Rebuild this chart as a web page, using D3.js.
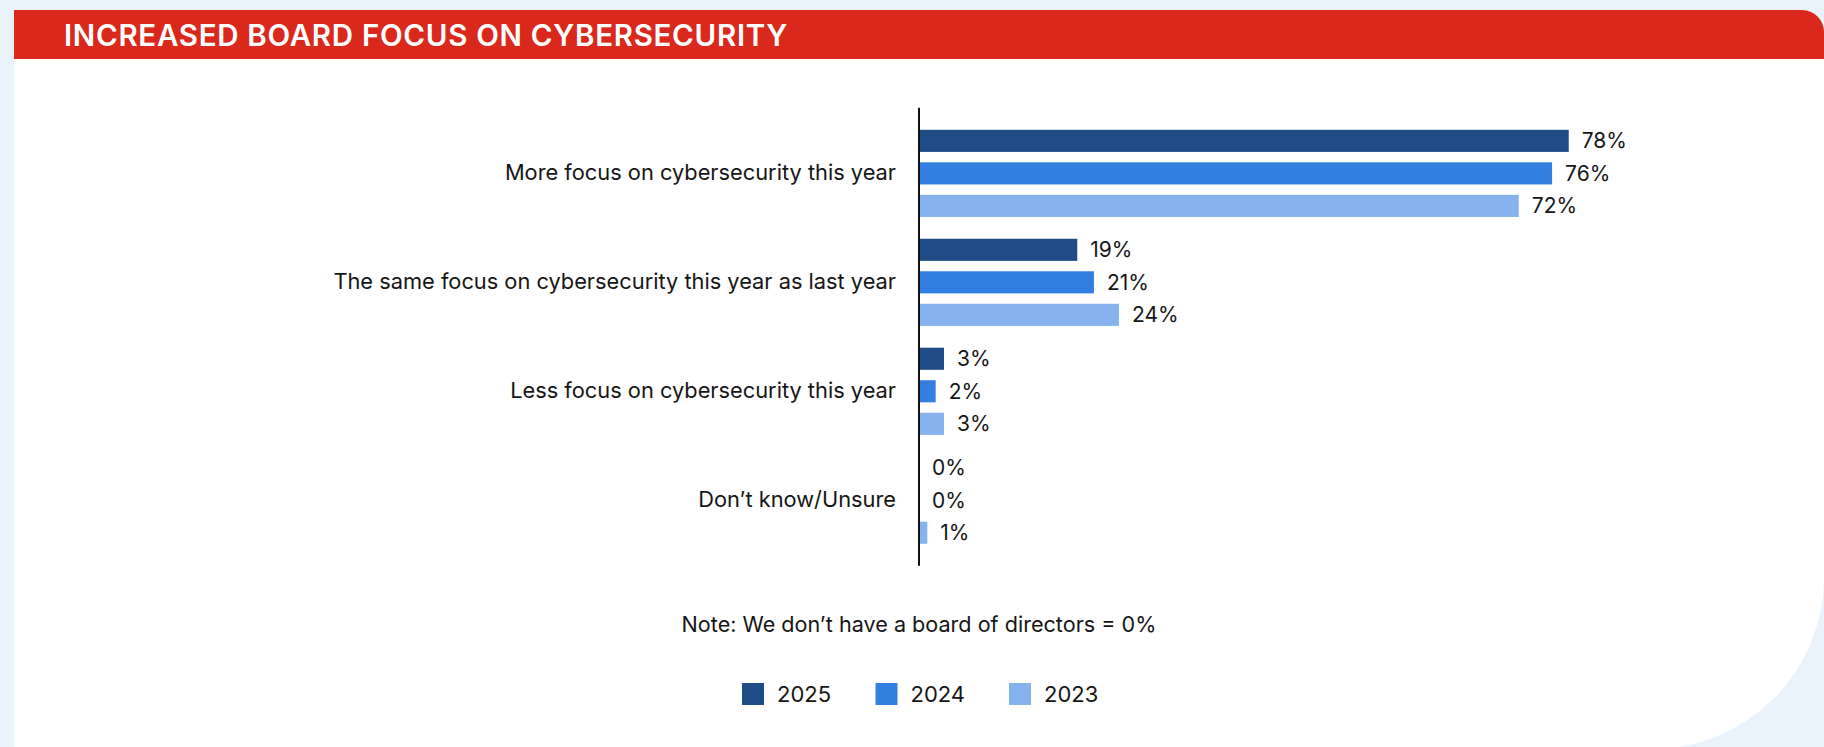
<!DOCTYPE html>
<html>
<head>
<meta charset="utf-8">
<script src="https://cdn.jsdelivr.net/npm/d3@7/dist/d3.min.js"></script>
<style>
  html, body { margin: 0; padding: 0; background: #EAF2FB; }
  svg { display: block; font-family: Inter, "Noto Sans", sans-serif; }
</style>
</head>
<body>
<svg id="chart" width="1824" height="747"></svg>
<script>
// Survey answers and the share of respondents per year
const categories = [
  "More focus on cybersecurity this year",
  "The same focus on cybersecurity this year as last year",
  "Less focus on cybersecurity this year",
  "Don\u2019t know/Unsure"
];
const years = ["2025", "2024", "2023"];
const values2025 = [78, 19, 3, 0];
const values2024 = [76, 21, 2, 0];
const values2023 = [72, 24, 3, 1];
const seriesValues = { "2025": values2025, "2024": values2024, "2023": values2023 };
const title = "INCREASED BOARD FOCUS ON CYBERSECURITY";
const note = "Note: We don\u2019t have a board of directors = 0%";

const colors = { "2025": "#1F4C87", "2024": "#3180E1", "2023": "#86B2EE" };
const textColor = "#161616";

const svg = d3.select("#chart");
const W = 1824, H = 747;

// Card with a rounded header corner and a sweeping bottom-right corner
const cardL = 14, cardT = 10, rTop = 22, rBot = 172, cardB = 749, headB = 59;
svg.append("path")
  .attr("d", `M${cardL},${cardT} H${W - rTop} A${rTop},${rTop} 0 0 1 ${W},${cardT + rTop} V${cardB - rBot} A${rBot},${rBot} 0 0 1 ${W - rBot},${cardB} H${cardL} Z`)
  .attr("fill", "#FFFFFF");
svg.append("path")
  .attr("d", `M${cardL},${cardT} H${W - rTop} A${rTop},${rTop} 0 0 1 ${W},${cardT + rTop} V${headB} H${cardL} Z`)
  .attr("fill", "#DA291C");
svg.append("text")
  .attr("x", 64).attr("y", 46)
  .attr("fill", "#FFFFFF")
  .attr("font-size", 29.5).attr("font-weight", 600)
  .attr("letter-spacing", 0.7)
  .text(title);

// Scales
const axisX = 919;
const x = d3.scaleLinear().domain([0, 100]).range([axisX, axisX + 833]);
const yGroup = d3.scaleBand().domain(categories).range([129.8, 543.8]).paddingInner(0.2);
const yYear = d3.scaleBand().domain(years).range([0, yGroup.bandwidth()]).paddingInner(0.32);

const rows = [];
categories.forEach((c, i) => years.forEach(yr => rows.push({ cat: c, year: yr, value: seriesValues[yr][i] })));

const plot = svg.append("g");

plot.selectAll("rect.bar")
  .data(rows)
  .join("rect")
  .attr("class", "bar")
  .attr("x", x(0))
  .attr("y", d => yGroup(d.cat) + yYear(d.year))
  .attr("width", d => x(d.value) - x(0))
  .attr("height", yYear.bandwidth())
  .attr("fill", d => colors[d.year]);

plot.selectAll("text.val")
  .data(rows)
  .join("text")
  .attr("class", "val")
  .attr("x", d => x(d.value) + 13)
  .attr("y", d => yGroup(d.cat) + yYear(d.year) + yYear.bandwidth() / 2)
  .attr("dy", "0.36em")
  .attr("font-size", 21)
  .attr("fill", textColor)
  .text(d => d.value + "%");

// Category axis
const axis = d3.axisLeft(yGroup).tickSize(0).tickPadding(23);
const gAxis = svg.append("g").attr("transform", `translate(${axisX},0)`).call(axis);
gAxis.select(".domain").remove();
gAxis.selectAll("text")
  .attr("font-size", 21.8)
  .attr("font-family", "Inter, 'Noto Sans', sans-serif")
  .attr("fill", textColor);

svg.append("line")
  .attr("x1", axisX).attr("x2", axisX)
  .attr("y1", yGroup.range()[0] - 22).attr("y2", yGroup.range()[1] + 22)
  .attr("stroke", "#111111").attr("stroke-width", 2);

// Note
svg.append("text")
  .attr("x", axisX).attr("y", 632)
  .attr("text-anchor", "middle")
  .attr("font-size", 21.6)
  .attr("fill", textColor)
  .text(note);

// Legend
const itemStep = 133.5, sq = 22;
const legendStart = axisX - (itemStep * (years.length - 1) + sq + 13 + 52) / 2;
const legend = svg.append("g").attr("transform", `translate(${legendStart},683)`);
const items = legend.selectAll("g").data(years).join("g")
  .attr("transform", (d, i) => `translate(${i * itemStep},0)`);
items.append("rect").attr("width", sq).attr("height", sq).attr("fill", d => colors[d]);
items.append("text")
  .attr("x", sq + 13).attr("y", sq / 2).attr("dy", "0.36em")
  .attr("font-size", 22)
  .attr("fill", textColor)
  .text(d => d);
</script>
</body>
</html>
